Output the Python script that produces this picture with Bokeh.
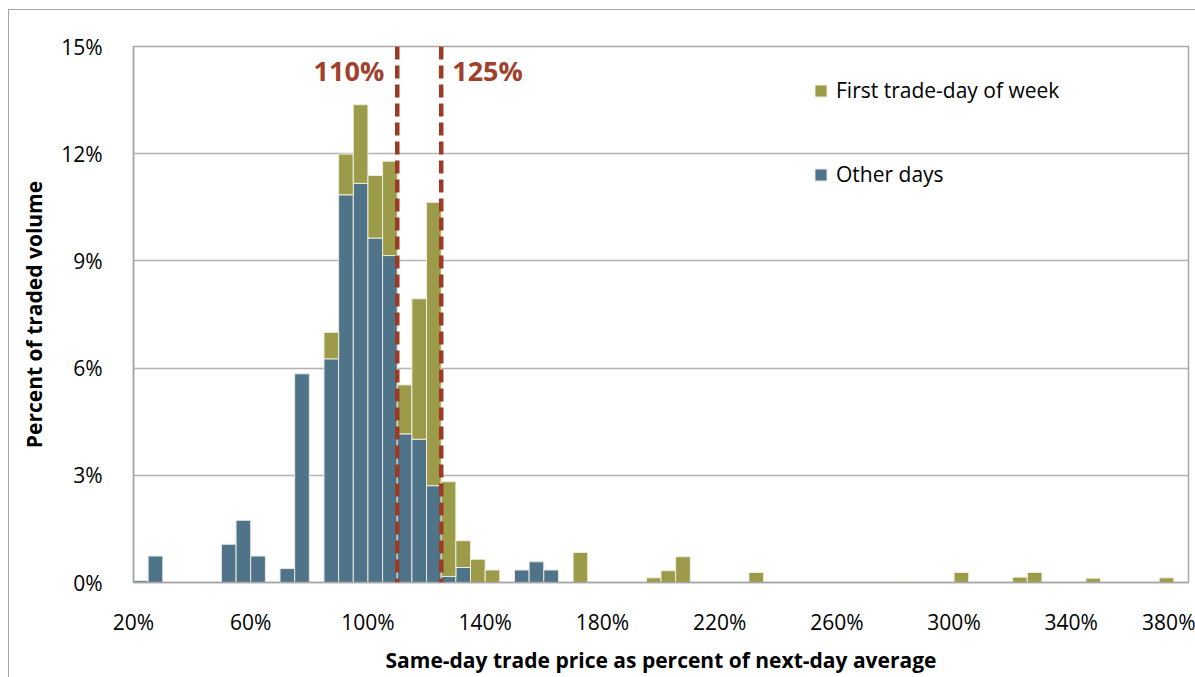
from bokeh.plotting import figure
from bokeh.models import (Span, Label, Legend, LegendItem, PrintfTickFormatter,
                          FixedTicker, ColumnDataSource, InlineStyleSheet)
from bokeh.embed import file_html
from bokeh.resources import INLINE

# ---- data (percent of traded volume per 5%-wide price bin) ----
bin_width = 5
other_bins = [20, 25, 50, 55, 60, 70, 75, 85, 90, 95, 100, 105, 110, 115, 120, 125, 130, 150, 155, 160]
other_days = [0.05, 0.74, 1.07, 1.74, 0.74, 0.39, 5.84, 6.26, 10.85, 11.17, 9.64, 9.15, 4.16, 4.01, 2.71, 0.17, 0.42, 0.35, 0.58, 0.35]

first_bins = [85, 90, 95, 100, 105, 110, 115, 120, 125, 130, 135, 140, 170, 195, 200, 205, 230, 280, 300, 320, 325, 330, 345, 370]
first_day = [0.74, 1.14, 2.20, 1.75, 2.64, 1.37, 3.93, 7.93, 2.65, 0.75, 0.65, 0.35, 0.84, 0.13, 0.33, 0.72, 0.28, 0.03, 0.28, 0.15, 0.28, 0.03, 0.12, 0.13]

thresholds = [110, 125]
threshold_labels = ["110%", "125%"]
x_ticks = [20, 60, 100, 140, 180, 220, 260, 300, 340, 380]
y_ticks = [0, 3, 6, 9, 12, 15]

BLUE = "#4F7489"
OLIVE = "#9C9B4A"
RED = "#9B3A25"
FONT = "Open Sans"

other_map = dict(zip(other_bins, other_days))
first_bottom = [other_map.get(b, 0.0) for b in first_bins]
first_top = [b + v for b, v in zip(first_bottom, first_day)]

src_o = ColumnDataSource(dict(left=other_bins, right=[b + bin_width for b in other_bins],
                              bottom=[0] * len(other_bins), top=other_days))
src_f = ColumnDataSource(dict(left=first_bins, right=[b + bin_width for b in first_bins],
                              bottom=first_bottom, top=first_top))

p = figure(width=1195, height=677, output_backend="svg", toolbar_location=None,
           x_range=(20, 380), y_range=(0, 15),
           min_border_left=133, min_border_right=7, min_border_top=46, min_border_bottom=95,
           frame_width=1055, frame_height=536)
p.background_fill_color = "white"
p.border_fill_color = "white"
p.outline_line_color = "#A6A6A6"
p.outline_line_width = 1.5

r_o = p.quad(left="left", right="right", bottom="bottom", top="top", source=src_o,
             fill_color=BLUE, line_color="#E6E8E0", line_width=1)
r_f = p.quad(left="left", right="right", bottom="bottom", top="top", source=src_f,
             fill_color=OLIVE, line_color="#EEEEDD", line_width=1)

for t in thresholds:
    p.add_layout(Span(location=t, dimension="height", line_color=RED, line_width=4.5,
                      line_dash="13 6"))

for t, txt, align, off in zip(thresholds, threshold_labels, ["right", "left"], [-13, 11]):
    p.add_layout(Label(x=t, y=14.33, text=txt, x_offset=off, text_align=align,
                       text_baseline="middle", text_color="#A0412D", text_font=FONT,
                       text_font_style="bold", text_font_size="27px"))

# axes
p.xaxis.ticker = FixedTicker(ticks=x_ticks)
p.yaxis.ticker = FixedTicker(ticks=y_ticks)
p.xaxis.formatter = PrintfTickFormatter(format="%d%%")
p.yaxis.formatter = PrintfTickFormatter(format="%d%%")
for ax in (p.xaxis, p.yaxis):
    ax.major_tick_line_color = None
    ax.minor_tick_line_color = None
    ax.axis_line_color = "#A6A6A6"
    ax.axis_line_width = 1.5
    ax.major_label_text_font = FONT
    ax.major_label_text_font_size = "21px"
    ax.major_label_text_color = "black"
    ax.axis_label_text_font = FONT
    ax.axis_label_text_font_size = "21px"
    ax.axis_label_text_font_style = "bold"
    ax.axis_label_text_color = "black"
p.xaxis.axis_label = "Same-day trade price as percent of next-day average"
p.yaxis.axis_label = "Percent of traded volume"
p.xaxis.major_label_standoff = 19
p.xaxis.axis_label_standoff = 7
p.yaxis.major_label_standoff = 25
p.yaxis.axis_label_standoff = 10

p.xgrid.grid_line_color = None
p.ygrid.grid_line_color = "#B3B3B3"
p.ygrid.grid_line_width = 1.5

legend = Legend(items=[LegendItem(label="First trade-day of week", renderers=[r_f]),
                       LegendItem(label="Other days", renderers=[r_o])],
                location=(680, 394), orientation="vertical",
                glyph_width=15, glyph_height=15, label_standoff=8, spacing=56,
                padding=0, margin=0, border_line_color=None, background_fill_alpha=0,
                label_text_font=FONT, label_text_font_size="21px", label_text_color="black",
                label_height=22)
p.add_layout(legend)

# outer chart border (left and top edges visible in the window)
p.stylesheets = [InlineStyleSheet(css=(
    ":host::after { content: ''; position: absolute; left: 8px; top: 9px; right: 0; bottom: 0;"
    " border-left: 1.5px solid #A6A6A6; border-top: 1.5px solid #A6A6A6;"
    " pointer-events: none; }"))]

open("out.html", "w").write(file_html(p, INLINE))
